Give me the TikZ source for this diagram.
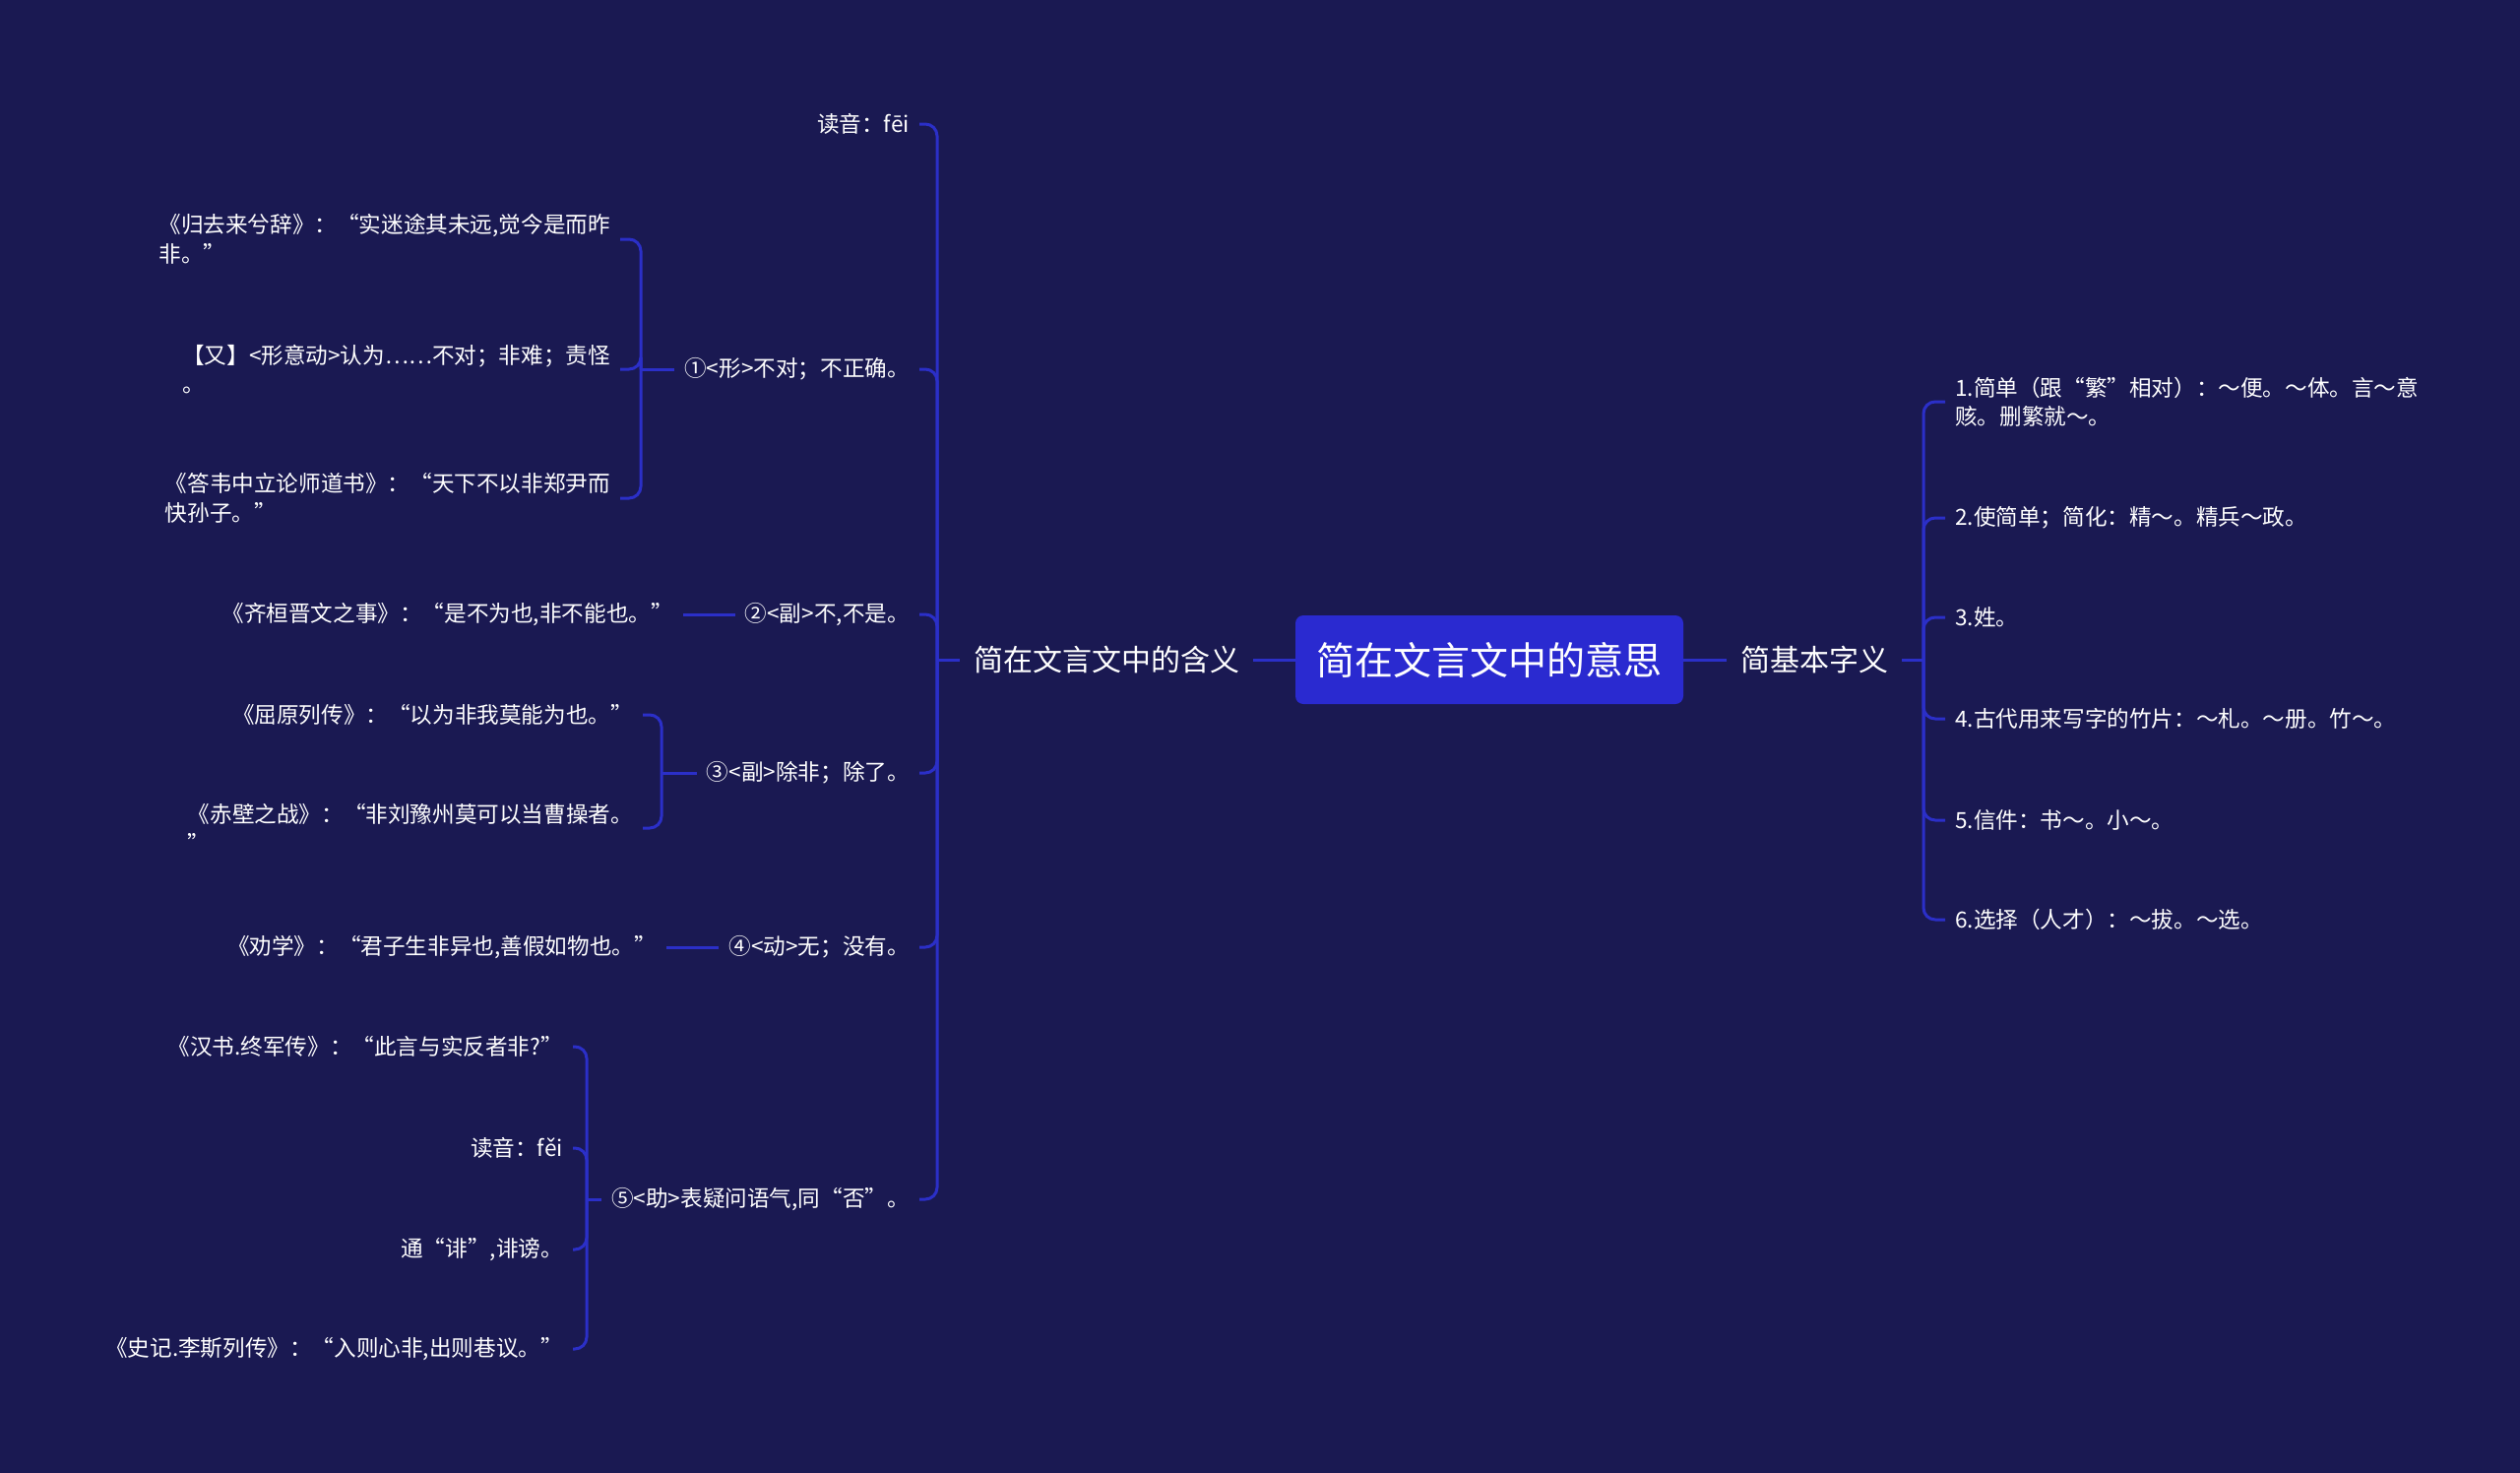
\documentclass[tikz,border=0pt]{standalone}
\usepackage{fontspec}
\setmainfont{Noto Sans CJK SC}
\definecolor{bgc}{HTML}{1A1952}
\definecolor{rootc}{HTML}{2A2AD0}
\definecolor{linec}{HTML}{2B2FC8}
\begin{document}
\begin{tikzpicture}[x=1pt,y=-1pt,
  conn/.style={draw=linec, line width=3pt, rounded corners=12pt},
  leaf/.style={text=white, font=\fontsize{22.6}{29.5}\selectfont, inner xsep=10pt, inner ysep=3pt, align=left},
  mainlab/.style={text=white, font=\fontsize{30}{36}\selectfont, inner xsep=14pt, inner ysep=4pt},
  rootbox/.style={fill=rootc, text=white, rounded corners=8pt, font=\fontsize{39}{44}\selectfont, minimum width=394pt, minimum height=90pt, inner sep=0pt}]
\fill[bgc] (0,0) rectangle (2560,1496);
\useasboundingbox (0,0) rectangle (2560,1496);

% centre
\node[rootbox] (root) at (1513,670) {简在文言文中的意思};
\node[mainlab] (L1) at (1124,670) {简在文言文中的含义};
\node[mainlab] (R1) at (1843,670) {简基本字义};
\coordinate (bL) at (952,670);
\coordinate (bR) at (1954,670);

% left main children
\node[leaf, anchor=east] (a0) at (934,126) {读音：fēi};
\node[leaf, anchor=east] (a1) at (934,375) {①<形>不对；不正确。};
\node[leaf, anchor=east] (a2) at (934,624) {②<副>不,不是。};
\node[leaf, anchor=east] (a3) at (934,785) {③<副>除非；除了。};
\node[leaf, anchor=east] (a4) at (934,962) {④<动>无；没有。};
\node[leaf, anchor=east] (a5) at (934,1218) {⑤<助>表疑问语气,同“否”。};

% branch 1
\coordinate (b1) at (651,375);
\node[leaf, anchor=east] (c11) at (630,243) {《归去来兮辞》：“实迷途其未远,觉今是而昨\\非。”};
\node[leaf, anchor=east] (c12) at (630,375) {【又】<形意动>认为……不对；非难；责怪\\。};
\node[leaf, anchor=east] (c13) at (630,506) {《答韦中立论师道书》：“天下不以非郑尹而\\快孙子。”};

% branch 2
\node[leaf, anchor=east] (c21) at (694,624) {《齐桓晋文之事》：“是不为也,非不能也。”};

% branch 3
\coordinate (b3) at (672,785);
\node[leaf, anchor=east] (c31) at (653,726) {《屈原列传》：“以为非我莫能为也。”};
\node[leaf, anchor=east] (c32) at (653,841) {《赤壁之战》：“非刘豫州莫可以当曹操者。\\”};

% branch 4
\node[leaf, anchor=east] (c41) at (677,962) {《劝学》：“君子生非异也,善假如物也。”};

% branch 5
\coordinate (b5) at (596,1218);
\node[leaf, anchor=east] (c51) at (582,1063) {《汉书.终军传》：“此言与实反者非?”};
\node[leaf, anchor=east] (c52) at (582,1166) {读音：fěi};
\node[leaf, anchor=east] (c53) at (582,1269) {通“诽”,诽谤。};
\node[leaf, anchor=east] (c54) at (582,1370) {《史记.李斯列传》：“入则心非,出则巷议。”};

% right children
\node[leaf, anchor=west] (r1) at (1976,408) {1.简单（跟“繁”相对）：～便。～体。言～意\\赅。删繁就～。};
\node[leaf, anchor=west] (r2) at (1976,526) {2.使简单；简化：精～。精兵～政。};
\node[leaf, anchor=west] (r3) at (1976,627) {3.姓。};
\node[leaf, anchor=west] (r4) at (1976,730) {4.古代用来写字的竹片：～札。～册。竹～。};
\node[leaf, anchor=west] (r5) at (1976,833) {5.信件：书～。小～。};
\node[leaf, anchor=west] (r6) at (1976,934) {6.选择（人才）：～拔。～选。};

% connectors
\draw[conn] (root.west) -- (L1.east);
\draw[conn] (root.east) -- (R1.west);
\draw[conn] (L1.west) -- (bL);
\draw[conn] (R1.east) -- (bR);
\foreach \n in {a0,a1,a2,a3,a4,a5} { \draw[conn] (bL) |- (\n.east); }
\foreach \n in {r1,r2,r3,r4,r5,r6} { \draw[conn] (bR) |- (\n.west); }
\draw[conn] (a1.west) -- (b1);
\foreach \n in {c11,c12,c13} { \draw[conn] (b1) |- (\n.east); }
\draw[conn] (a2.west) -- (c21.east);
\draw[conn] (a3.west) -- (b3);
\foreach \n in {c31,c32} { \draw[conn] (b3) |- (\n.east); }
\draw[conn] (a4.west) -- (c41.east);
\draw[conn] (a5.west) -- (b5);
\foreach \n in {c51,c52,c53,c54} { \draw[conn] (b5) |- (\n.east); }
\end{tikzpicture}
\end{document}
